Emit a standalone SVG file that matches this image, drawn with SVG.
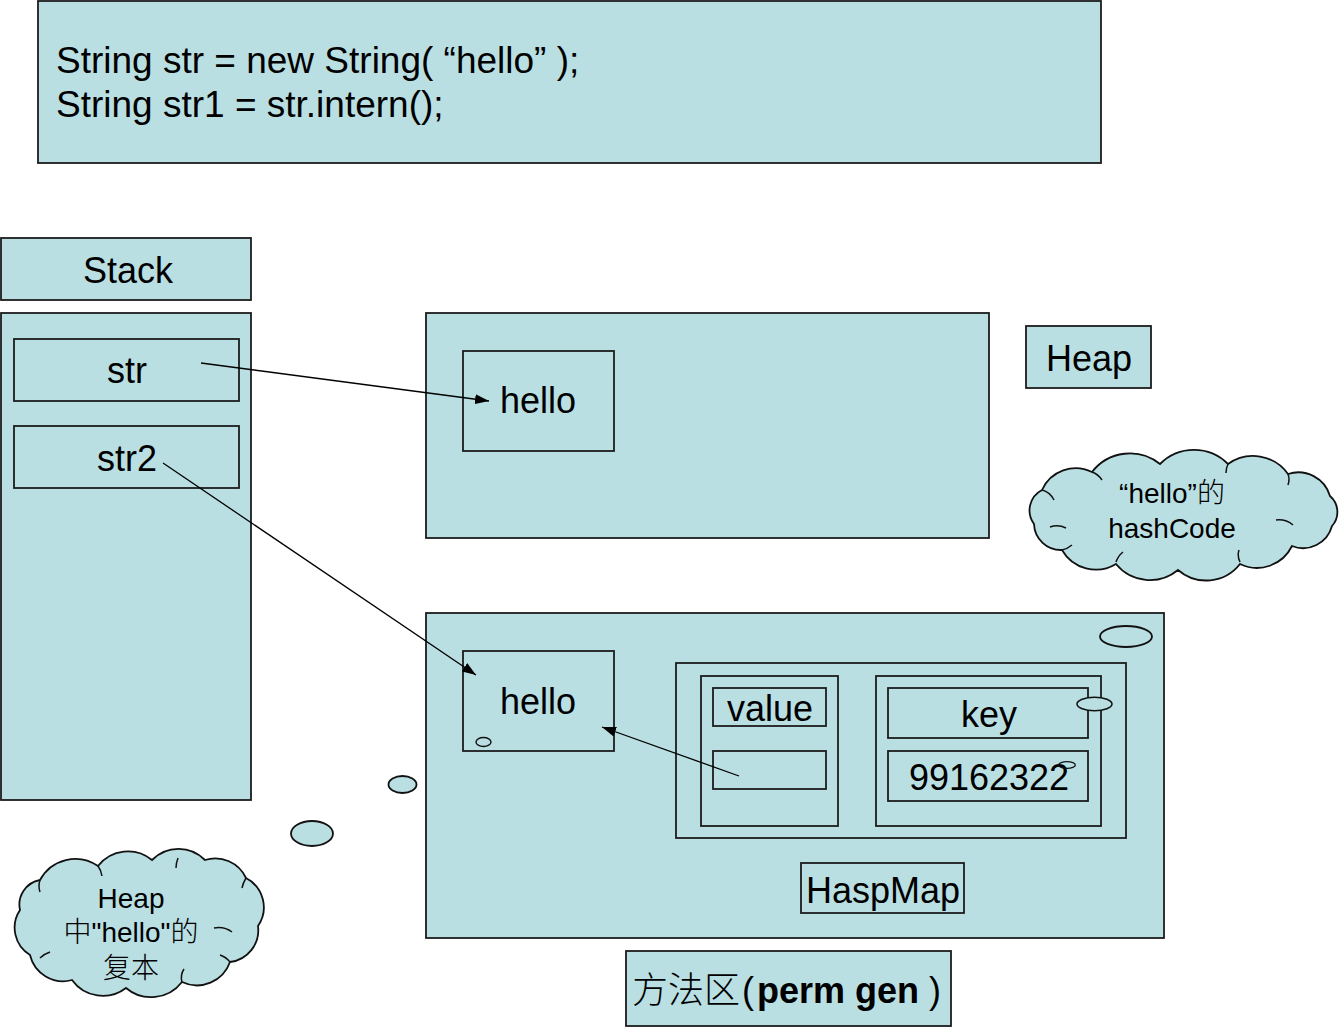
<svg xmlns="http://www.w3.org/2000/svg" width="1340" height="1027" viewBox="0 0 1340 1027">
  <defs>
    <style>
      .box { fill: #b9dfe3; stroke: #1c1c1c; stroke-width: 1.8; }
      .bubble { fill: #b9dfe3; stroke: #111; stroke-width: 1.8; }
      .lbl { font-family: "Liberation Sans", Arial, "Noto Sans CJK SC", sans-serif; font-size: 36px; fill: #000; }
      .mid { text-anchor: middle; }
      .cjk { font-family: "Noto Sans CJK SC", "Liberation Sans", sans-serif; font-weight: 300; }
      .cloudtxt { font-family: "Liberation Sans", Arial, "Noto Sans CJK SC", sans-serif; font-size: 28px; fill: #000; text-anchor: middle; }
      .wire { stroke: #000; stroke-width: 1.3; fill: none; marker-end: url(#head); }
      .inner { fill: none; stroke: #111; stroke-width: 1.5; }
    </style>
    <marker id="head" viewBox="0 0 14 10" refX="14" refY="5" markerWidth="14" markerHeight="10" markerUnits="userSpaceOnUse" orient="auto">
      <path d="M0,0 L14,5 L0,10 Z" fill="#000"/>
    </marker>
  </defs>

  <rect width="1340" height="1027" fill="#fff"/>

  <!-- code snippet -->
  <g id="code">
    <rect class="box" x="38" y="1" width="1063" height="162"/>
    <text class="lbl" x="56" y="73" style="font-size:37px">String str = new String( “hello” );</text>
    <text class="lbl" x="56" y="117" style="font-size:37px">String str1 = str.intern();</text>
  </g>

  <!-- stack -->
  <g id="stack-label">
    <rect class="box" x="1" y="238" width="250" height="62"/>
    <text class="lbl mid" x="128" y="283">Stack</text>
  </g>
  <g id="stack">
    <rect class="box" x="1" y="313" width="250" height="487"/>
  </g>
  <g id="var-str">
    <rect class="box" x="14" y="339" width="225" height="62"/>
    <text class="lbl mid" x="127" y="383">str</text>
  </g>
  <g id="var-str2">
    <rect class="box" x="14" y="426" width="225" height="62"/>
    <text class="lbl mid" x="127" y="471">str2</text>
  </g>

  <!-- heap -->
  <g id="heap">
    <rect class="box" x="426" y="313" width="563" height="225"/>
  </g>
  <g id="heap-hello">
    <rect class="box" x="463" y="351" width="151" height="100"/>
    <text class="lbl" x="500" y="413">hello</text>
  </g>
  <g id="heap-label">
    <rect class="box" x="1026" y="326" width="125" height="62"/>
    <text class="lbl mid" x="1089" y="371">Heap</text>
  </g>

  <!-- note: hashCode cloud -->
  <g id="cloud-hashcode">
    <path class="bubble" d="M1034,524 A23,23 0 0 1 1042,490 A37,37 0 0 1 1092,472 A48,48 0 0 1 1160,464 A48,48 0 0 1 1228,464 A43,43 0 0 1 1288,474 A33,33 0 0 1 1330,496 A21,21 0 0 1 1332,526 A30,30 0 0 1 1292,546 A39,39 0 0 1 1240,564 A43,43 0 0 1 1178,570 A44,44 0 0 1 1116,564 A39,39 0 0 1 1062,550 A27,27 0 0 1 1034,524 Z"/>
    <path class="inner" d="M1042,490 q8,2 12,10 M1050,527 q8,-3 16,1 M1092,472 q6,2 10,8 M1228,464 q-2,4 -2,9 M1288,474 q2,5 0,11 M1276,520 q10,-1 17,5 M1240,562 q-3,-6 -1,-12 M1116,562 q2,-6 7,-10 M1062,550 q5,-1 10,-5"/>
    <text class="cloudtxt" x="1172" y="503">“hello”<tspan class="cjk">的</tspan></text>
    <text class="cloudtxt" x="1172" y="538">hashCode</text>
  </g>

  <!-- method area -->
  <g id="perm-gen">
    <rect class="box" x="426" y="613" width="738" height="325"/>
    <ellipse class="bubble" cx="1126" cy="636.5" rx="26" ry="10.5"/>
  </g>
  <g id="pool-hello">
    <rect class="box" x="463" y="651" width="151" height="100"/>
    <text class="lbl" x="500" y="714">hello</text>
    <ellipse class="bubble" cx="483.5" cy="742" rx="7.5" ry="4.5" style="stroke-width:1.4"/>
  </g>
  <g id="hashmap">
    <rect class="box" x="676" y="663" width="450" height="175"/>
  </g>
  <g id="value-col">
    <rect class="box" x="701" y="676" width="137" height="150"/>
    <rect class="box" x="713" y="688" width="113" height="38"/>
    <text class="lbl mid" x="770" y="721">value</text>
    <rect class="box" x="713" y="751" width="113" height="38"/>
  </g>
  <g id="key-col">
    <rect class="box" x="876" y="676" width="225" height="150"/>
    <rect class="box" x="888" y="688" width="200" height="50"/>
    <text class="lbl mid" x="989" y="727">key</text>
    <ellipse class="bubble" cx="1094.5" cy="704" rx="17.5" ry="6.7" style="stroke-width:1.5"/>
    <rect class="box" x="888" y="751" width="200" height="50"/>
    <text class="lbl mid" x="989" y="790">99162322</text>
    <ellipse cx="1067" cy="765" rx="8.3" ry="3.4" fill="none" stroke="#111" stroke-width="1.3"/>
  </g>
  <g id="hashmap-label">
    <rect class="box" x="801" y="863" width="163" height="50"/>
    <text class="lbl mid" x="883" y="903">HaspMap</text>
  </g>
  <g id="perm-gen-label">
    <rect class="box" x="626" y="951" width="325" height="75"/>
    <text class="lbl" x="632" y="1003"><tspan class="cjk">方法区</tspan><tspan dx="2">(</tspan><tspan dx="3" font-weight="bold">perm gen</tspan><tspan dx="10">)</tspan></text>
  </g>

  <!-- note: copy of the heap string -->
  <g id="cloud-copy">
    <ellipse class="bubble" cx="402.5" cy="784.5" rx="14" ry="8.5"/>
    <ellipse class="bubble" cx="312" cy="833.5" rx="21" ry="12.5"/>
    <path class="bubble" d="M30,955 A32,32 0 0 1 20,910 A25,25 0 0 1 40,880 A40,40 0 0 1 98,866 A38,38 0 0 1 152,860 A37,37 0 0 1 205,860 A34,34 0 0 1 246,878 A33,33 0 0 1 258,926 A32,32 0 0 1 230,962 A35,35 0 0 1 182,982 A39,39 0 0 1 126,988 A38,38 0 0 1 72,980 A34,34 0 0 1 30,955 Z"/>
    <path class="inner" d="M40,880 q-2,6 0,12 M98,866 q3,4 4,10 M178,858 q-2,5 -2,10 M246,878 q-3,5 -4,10 M214,928 q10,-2 18,4 M230,962 q-4,-5 -10,-7 M182,982 q-2,-7 2,-13 M40,958 q4,-4 10,-6"/>
    <text class="cloudtxt" x="131" y="908">Heap</text>
    <text class="cloudtxt" x="131" y="942"><tspan class="cjk">中</tspan>"hello"<tspan class="cjk">的</tspan></text>
    <text class="cloudtxt" x="131" y="978"><tspan class="cjk">复本</tspan></text>
  </g>

  <!-- references -->
  <g id="connectors">
    <path class="wire" d="M201,363 L489,401"/>
    <path class="wire" d="M163,463 L476,675"/>
    <path class="wire" d="M739,776 L602,727"/>
  </g>
</svg>
